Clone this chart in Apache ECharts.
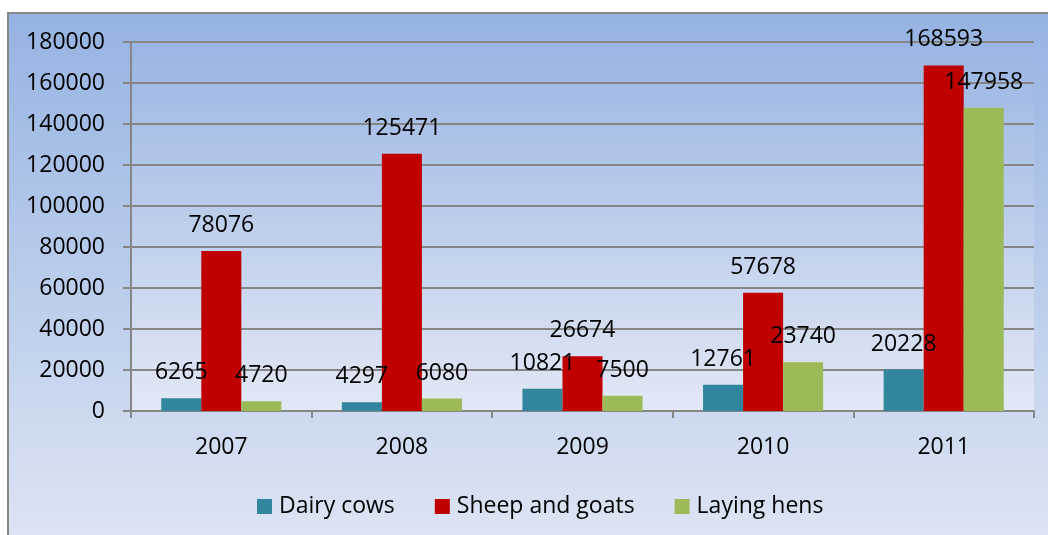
<!DOCTYPE html>
<html>
<head>
<meta charset="utf-8">
<script src="https://cdn.jsdelivr.net/npm/echarts@6/dist/echarts.min.js"></script>
<style>
html,body{margin:0;padding:0;background:#fff;}
#c{width:1048px;height:535px;}
</style>
</head>
<body>
<div id="c"></div>
<script>
const categories = ['2007', '2008', '2009', '2010', '2011'];
const dairyCows = [6265, 4297, 10821, 12761, 20228];
const sheepGoats = [78076, 125471, 26674, 57678, 168593];
const layingHens = [4720, 6080, 7500, 23740, 147958];
const seriesNames = ['Dairy cows', 'Sheep and goats', 'Laying hens'];
const colors = ['#31859c', '#c00000', '#9bbb59'];

const FONT = '"Open Sans", "Noto Sans", sans-serif';
const chart = echarts.init(document.getElementById('c'), null, {renderer: 'canvas'});

function lin(top, bottom) {
  return new echarts.graphic.LinearGradient(0, 0, 0, 1, [
    {offset: 0, color: top}, {offset: 1, color: bottom}
  ]);
}

const label = {
  show: true, position: 'top', distance: 14,
  color: '#000', fontSize: 23, fontFamily: FONT
};

function mk(name, data, color) {
  return {
    name: name, type: 'bar', data: data,
    barGap: '0%', barCategoryGap: '33.5%',
    itemStyle: {color: color},
    label: label
  };
}

chart.setOption({
  animation: false,
  textStyle: {fontFamily: FONT},
  graphic: [{
    type: 'rect', z: -10, silent: true,
    shape: {x: 8, y: 13, width: 1060, height: 540},
    style: {fill: lin('#95b3e2', '#dfe6f4'), stroke: '#878787', lineWidth: 2}
  }],
  grid: {
    left: 131, right: 14, top: 42, bottom: 124,
    show: true, borderWidth: 0,
    backgroundColor: lin('#9ab5e3', '#e2e8f5')
  },
  legend: {
    data: seriesNames,
    bottom: 12, left: 252,
    itemWidth: 15, itemHeight: 15, itemGap: 40,
    icon: 'rect',
    textStyle: {fontSize: 23, color: '#000', fontFamily: FONT, padding: [0, 0, 0, 2]}
  },
  xAxis: {
    type: 'category', data: categories,
    boundaryGap: true,
    axisLine: {lineStyle: {color: '#868686', width: 2}},
    axisTick: {show: true, length: 7, lineStyle: {color: '#868686', width: 2}},
    axisLabel: {color: '#000', fontSize: 23, margin: 25, fontFamily: FONT}
  },
  yAxis: {
    type: 'value', min: 0, max: 180000, interval: 20000,
    axisLine: {show: true, lineStyle: {color: '#868686', width: 2}},
    axisTick: {show: true, length: 8, lineStyle: {color: '#868686', width: 2}},
    splitLine: {show: true, lineStyle: {color: '#868686', width: 2}},
    axisLabel: {color: '#000', fontSize: 23, margin: 26, fontFamily: FONT,
      formatter: function (v) { return String(v); }}
  },
  series: [
    mk(seriesNames[0], dairyCows, colors[0]),
    mk(seriesNames[1], sheepGoats, colors[1]),
    mk(seriesNames[2], layingHens, colors[2])
  ]
});
</script>
</body>
</html>
